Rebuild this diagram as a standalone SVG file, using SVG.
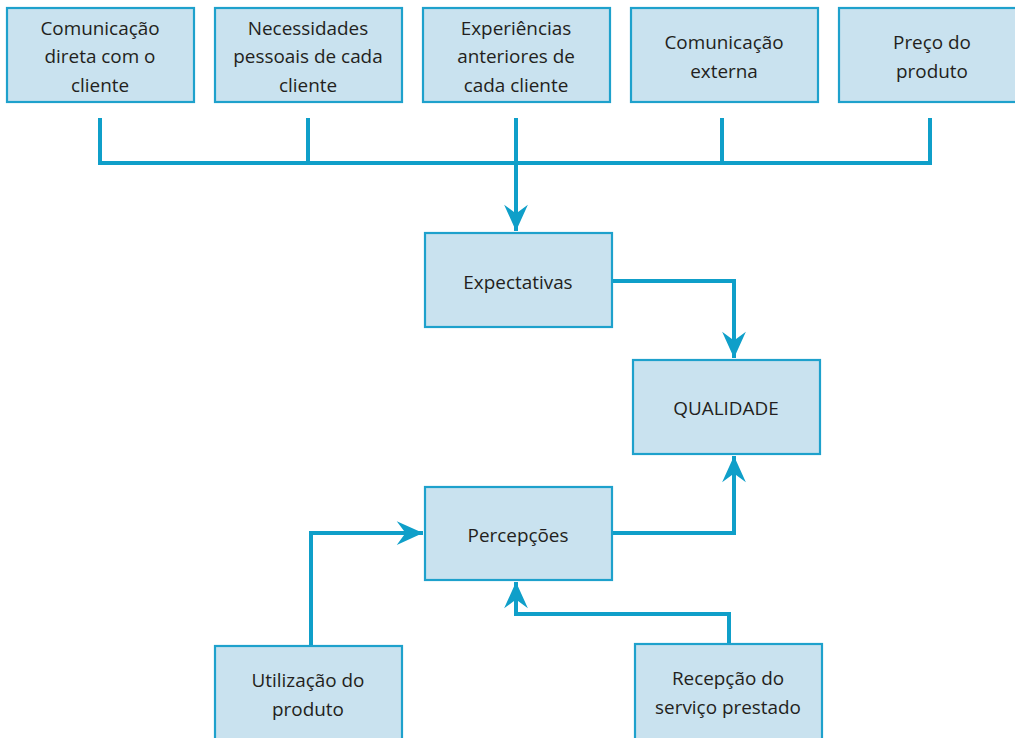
<svg xmlns="http://www.w3.org/2000/svg" width="1015" height="738" viewBox="0 0 1015 738">
<style>
.box{fill:#c9e2ef;stroke:#1ea1cc;stroke-width:2.2}
.t{font-family:"Open Sans","Noto Sans","Liberation Sans",sans-serif;font-size:18.9px;fill:#231f20;text-anchor:middle;dominant-baseline:central}
.c{fill:none;stroke:#0f9fc9;stroke-width:4;stroke-linejoin:miter}
</style>
<defs>
<marker id="ah" markerUnits="userSpaceOnUse" markerWidth="30" markerHeight="30" viewBox="-22 -12 24 24" refX="0" refY="0" orient="auto">
<path d="M0,0 L-21,-9.5 L-14,0 L-21,9.5 Z" fill="#0f9fc9"/>
</marker>
</defs>
<rect width="1015" height="738" fill="#fff"/>
<g id="connectors">
<path class="c" d="M100,118 V163 H930 V118"/>
<path class="c" d="M308,118 V163"/>
<path class="c" d="M722,118 V163"/>
<path class="c" d="M516,118 V231" marker-end="url(#ah)"/>
<path class="c" d="M612,281 H734 V358" marker-end="url(#ah)"/>
<path class="c" d="M612,533 H734 V456" marker-end="url(#ah)"/>
<path class="c" d="M311,646 V533 H423" marker-end="url(#ah)"/>
<path class="c" d="M729,644 V614 H516 V582" marker-end="url(#ah)"/>
</g>
<g id="n1"><rect class="box" x="7" y="8" width="187" height="94"/>
<text class="t" x="100" y="28">Comunicação</text><text class="t" x="100" y="56">direta com o</text><text class="t" x="100" y="85">cliente</text></g>
<g id="n2"><rect class="box" x="215" y="8" width="187" height="94"/>
<text class="t" x="308" y="28">Necessidades</text><text class="t" x="308" y="56">pessoais de cada</text><text class="t" x="308" y="85">cliente</text></g>
<g id="n3"><rect class="box" x="423" y="8" width="187" height="94"/>
<text class="t" x="516" y="28">Experiências</text><text class="t" x="516" y="56">anteriores de</text><text class="t" x="516" y="85">cada cliente</text></g>
<g id="n4"><rect class="box" x="631" y="8" width="187" height="94"/>
<text class="t" x="724" y="42">Comunicação</text><text class="t" x="724" y="71">externa</text></g>
<g id="n5"><rect class="box" x="839" y="8" width="187" height="94"/>
<text class="t" x="932" y="42">Preço do</text><text class="t" x="932" y="71">produto</text></g>
<g id="n6"><rect class="box" x="425" y="233" width="187" height="94"/>
<text class="t" x="518" y="282">Expectativas</text></g>
<g id="n7"><rect class="box" x="633" y="360" width="187" height="94"/>
<text class="t" x="726" y="408">QUALIDADE</text></g>
<g id="n8"><rect class="box" x="425" y="487" width="187" height="93"/>
<text class="t" x="518" y="535">Percepções</text></g>
<g id="n9"><rect class="box" x="215" y="646" width="187" height="100"/>
<text class="t" x="308" y="680">Utilização do</text><text class="t" x="308" y="709">produto</text></g>
<g id="n10"><rect class="box" x="635" y="644" width="187" height="100"/>
<text class="t" x="728" y="678">Recepção do</text><text class="t" x="728" y="707">serviço prestado</text></g>
</svg>
